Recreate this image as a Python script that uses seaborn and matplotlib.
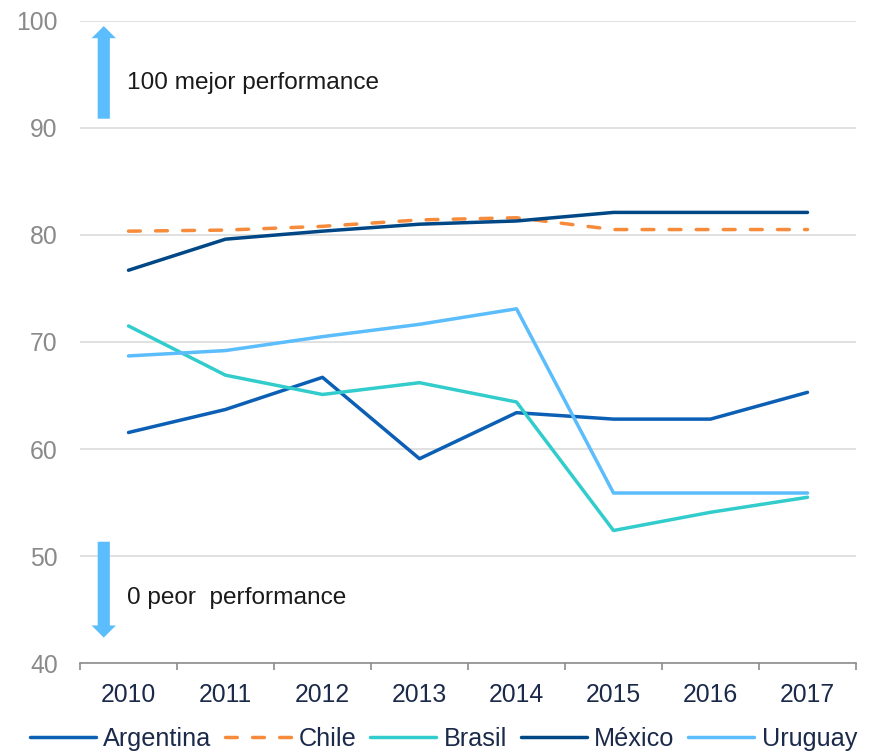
import pandas as pd
import numpy as np
import matplotlib.pyplot as plt
import seaborn as sns

years = [2010, 2011, 2012, 2013, 2014, 2015, 2016, 2017]
argentina = [61.55, 63.7, 66.7, 59.1, 63.4, 62.8, 62.8, 65.3]
chile = [80.35, 80.45, 80.8, 81.4, 81.6, 80.5, 80.5, 80.5]
brasil = [71.5, 66.9, 65.1, 66.2, 64.4, 52.4, 54.1, 55.5]
mexico = [76.7, 79.6, 80.35, 81.0, 81.3, 82.1, 82.1, 82.1]
uruguay = [68.7, 69.2, 70.5, 71.65, 73.1, 55.9, 55.9, 55.9]

countries = ['Argentina', 'Chile', 'Brasil', 'México', 'Uruguay']
colors = ['#0b5fb4', '#f68b3b', '#33cccc', '#004786', '#5bbdfb']


def buildData():
    series = [argentina, chile, brasil, mexico, uruguay]
    frames = []
    for name, vals in zip(countries, series):
        frames.append(pd.DataFrame({'Year': years, 'Value': vals, 'Country': name}))
    return pd.concat(frames, ignore_index=True)


df = buildData()

sns.set_style('white')
plt.rcParams['font.family'] = ['Liberation Sans', 'DejaVu Sans']

fig = plt.figure(figsize=(8.73, 7.52), dpi=100)
ax = fig.add_axes([80 / 873, 1 - 663.3 / 752, (856 - 80) / 873, (663.3 - 20.7) / 752])

dashes = {'Argentina': '', 'Chile': (3.4, 4.4), 'Brasil': '', 'México': '', 'Uruguay': ''}
sns.lineplot(data=df, x='Year', y='Value', hue='Country', style='Country',
             hue_order=countries, style_order=countries,
             palette=dict(zip(countries, colors)), dashes=dashes,
             linewidth=2.5, ax=ax, legend=True,
             solid_capstyle='round', dash_capstyle='round')

ax.set_xlim(2009.5, 2017.5)
ax.set_ylim(40, 100)
ax.set_yticks(range(40, 101, 10))
ax.set_xticks(years)
ax.set_xticks(np.arange(2009.5, 2018, 1), minor=True)
ax.set_xlabel('')
ax.set_ylabel('')

ax.grid(axis='y', color='#d9d9d9', linewidth=1.1)
ax.set_axisbelow(True)
for s in ['top', 'right', 'left']:
    ax.spines[s].set_visible(False)
ax.spines['bottom'].set_color('#8c8c8c')
ax.spines['bottom'].set_linewidth(1.2)

ax.tick_params(axis='x', which='major', length=0, pad=14, labelsize=17.8, labelcolor='#1b2a4a')
ax.tick_params(axis='x', which='minor', length=5, width=1.2, color='#8c8c8c', direction='out', bottom=True)
ax.tick_params(axis='y', length=0, pad=16, labelsize=17.8, labelcolor='#8a8a8a')

# arrows and notes
arrow_style = 'simple,head_length=0.7,head_width=1.4,tail_width=0.7'
ax.annotate('', xy=(2009.745, 99.5), xytext=(2009.745, 90.85),
            arrowprops=dict(arrowstyle=arrow_style, color='#5bbdfb', lw=0,
                            shrinkA=0, shrinkB=0, mutation_scale=12.5))
ax.annotate('', xy=(2009.745, 42.4), xytext=(2009.745, 51.35),
            arrowprops=dict(arrowstyle=arrow_style, color='#5bbdfb', lw=0,
                            shrinkA=0, shrinkB=0, mutation_scale=12.5))
ax.text(2009.98, 94.2, '100 mejor performance', fontsize=17.6, color='#1a1a1a', va='center', ha='left')
ax.text(2009.98, 46.1, '0 peor  performance', fontsize=17.6, color='#1a1a1a', va='center', ha='left')

handles, labels = ax.get_legend_handles_labels()
ax.get_legend().remove()
for h in handles:
    h.set_linewidth(2.5)
fig.legend(handles, labels, loc='center', bbox_to_anchor=(0.508, 1 - 739 / 752), ncol=5,
           frameon=False, fontsize=18.2, labelcolor='#1b2a4a', handlelength=2.6,
           handletextpad=0.3, columnspacing=0.55, borderpad=0)

fig.savefig('out.png', dpi=100)
